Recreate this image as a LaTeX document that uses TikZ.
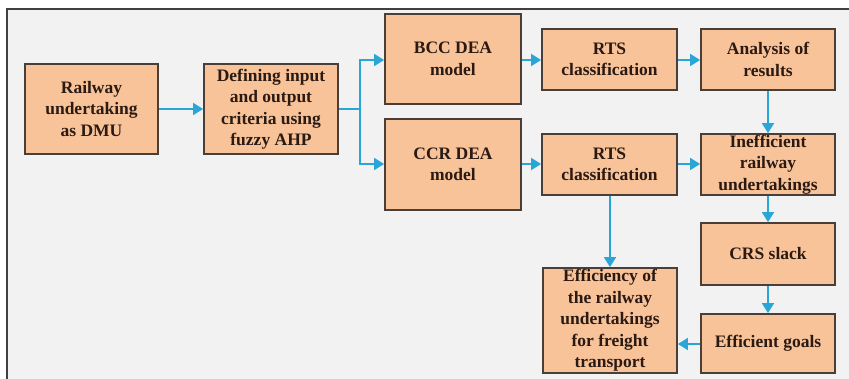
\documentclass[tikz,border=0pt]{standalone}
\usepackage{fontspec}
\setmainfont{Liberation Serif}
\usetikzlibrary{arrows.meta}
\definecolor{boxfill}{HTML}{F9C39A}
\definecolor{boxline}{HTML}{4A3F38}
\definecolor{flow}{HTML}{2AA6D6}
\definecolor{panel}{HTML}{F2F2F2}
\definecolor{ink}{HTML}{2A1A12}
\tikzset{
  stage/.style={draw=boxline, line width=1.8pt, fill=boxfill, inner sep=0pt,
    text=ink, font=\fontsize{17.5}{21.5}\selectfont\bfseries, align=center},
  flowarrow/.style={draw=flow, line width=1.8pt,
    -{Triangle[length=10pt,width=12pt]}},
  flowline/.style={draw=flow, line width=1.8pt}
}
\newcommand{\stagebox}[6]{%
  \node[stage, minimum width=#4-#2, minimum height=#5-#3] (#1) at ({(#2+#4)/2},{(#3+#5)/2}) {#6};}
\begin{document}
\begin{tikzpicture}[x=1pt,y=-1pt]
\useasboundingbox (0,0) rectangle (849,379);
% panel background and frame
\fill[white] (0,0) rectangle (849,379);
\fill[panel] (7,9) rectangle (849,379);
\draw[line width=1.6pt, draw=black!75] (7,379) -- (7,9) -- (849,9);
% stages
\stagebox{dmu}{25}{64}{158}{154}{Railway\\undertaking\\as DMU}
\stagebox{crit}{204}{64}{338}{154}{Defining input\\and output\\criteria using\\fuzzy AHP}
\stagebox{bcc}{385}{14}{521}{104}{BCC DEA\\model}
\stagebox{ccr}{385}{119}{521}{210}{CCR DEA\\model}
\stagebox{rtsa}{542}{29}{677}{90}{RTS\\classification}
\stagebox{anal}{701}{29}{835}{90}{Analysis of\\results}
\stagebox{rtsb}{542}{134}{677}{195}{RTS\\classification}
\stagebox{ineff}{701}{134}{835}{195}{Inefficient\\railway\\undertakings}
\stagebox{crs}{701}{223}{835}{285}{CRS slack}
\stagebox{goals}{701}{314}{835}{373}{Efficient goals}
\stagebox{freight}{543}{268}{677}{373}{Efficiency of\\the railway\\undertakings\\for freight\\transport}
% connectors
\coordinate (split) at (360,109);
\draw[flowarrow] (dmu.east) -- (crit.east -| crit.west);
\draw[flowline] (crit.east) -- (split);
\draw[flowarrow] (split) |- (bcc.west |- 0,60);
\draw[flowarrow] (split) |- (ccr.west |- 0,164);
\draw[flowarrow] (bcc.east |- 0,60) -- (rtsa.west |- 0,60);
\draw[flowarrow] (rtsa.east |- 0,60) -- (anal.west |- 0,60);
\draw[flowarrow] (ccr.east |- 0,164) -- (rtsb.west |- 0,164);
\draw[flowarrow] (rtsb.east |- 0,164) -- (ineff.west |- 0,164);
\draw[flowarrow] (anal.south -| 768,0) -- (ineff.north -| 768,0);
\draw[flowarrow] (ineff.south -| 768,0) -- (crs.north -| 768,0);
\draw[flowarrow] (crs.south -| 768,0) -- (goals.north -| 768,0);
\draw[flowarrow] (rtsb.south -| 610,0) -- (freight.north -| 610,0);
\draw[flowarrow] (goals.west |- 0,344) -- (freight.east |- 0,344);
\end{tikzpicture}
\end{document}
